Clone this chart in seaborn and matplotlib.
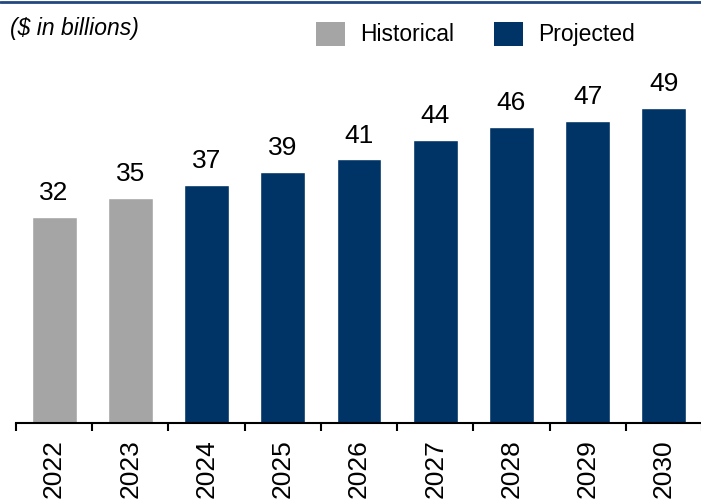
import matplotlib
matplotlib.use("Agg")
import matplotlib.pyplot as plt
from matplotlib.lines import Line2D
from matplotlib.patches import Patch
import pandas as pd
import seaborn as sns

# Data
years = ["2022", "2023", "2024", "2025", "2026", "2027", "2028", "2029", "2030"]
values = [32, 35, 37, 39, 41, 44, 46, 47, 49]
periods = ["Historical", "Historical", "Projected", "Projected", "Projected",
           "Projected", "Projected", "Projected", "Projected"]

GRAY = "#A5A5A5"
NAVY = "#003366"

sns.set_style("white")
plt.rcParams["font.family"] = ["Liberation Sans", "DejaVu Sans"]
plt.rcParams["text.color"] = "black"
plt.rcParams["xtick.color"] = "black"
plt.rcParams["xtick.labelcolor"] = "black"

df = pd.DataFrame({"year": years, "value": values, "period": periods})

fig = plt.figure(figsize=(7.01, 5.0), dpi=100)
ax = fig.add_axes([16 / 701, 77 / 500, 686 / 701, 423 / 500])

sns.barplot(data=df, x="year", y="value", hue="period",
            palette={"Historical": GRAY, "Projected": NAVY},
            dodge=False, width=0.59, saturation=1, legend=False, ax=ax)

for container in ax.containers:
    ax.bar_label(container, fmt="%d", padding=8.5, fontsize=19,
                 color="black")

ax.set_xlim(-0.5, len(years) - 0.5)
ax.set_ylim(0, 65.8)
ax.set_xlabel("")
ax.set_ylabel("")
ax.set_yticks([])

# year labels at bar centres, tick marks between categories
ax.set_xticks(range(len(years)))
ax.set_xticklabels(years, rotation=90, fontsize=19)
ax.set_xticks([i - 0.5 for i in range(len(years) + 1)], minor=True)
ax.tick_params(axis="x", which="major", bottom=True, length=0, pad=11.5,
               labelcolor="black")
ax.tick_params(axis="x", which="minor", bottom=True, length=5.8, width=1.5,
               color="black", direction="out")

for side in ["top", "right", "left"]:
    ax.spines[side].set_visible(False)
ax.spines["bottom"].set_color("black")
ax.spines["bottom"].set_linewidth(1.5)

# legend
handles = [Patch(facecolor=GRAY, edgecolor="none", label="Historical"),
           Patch(facecolor=NAVY, edgecolor="none", label="Projected")]
fig.legend(handles=handles, loc="center left",
           bbox_to_anchor=(316 / 701, 1 - 34 / 500), ncol=2, frameon=False,
           borderaxespad=0, borderpad=0, labelcolor="black",
           fontsize=16.5, handlelength=1.27, handleheight=1.27,
           handletextpad=0.65, columnspacing=1.75)

fig.text(10 / 701, 1 - 28 / 500, "($ in billions)", fontsize=16.5,
         style="italic", va="center", ha="left", color="black")

# navy rule across the top
fig.add_artist(Line2D([0, 1], [0.997, 0.997], transform=fig.transFigure,
                      color="#21497F", linewidth=2))

plt.savefig("out.png", dpi=100)
